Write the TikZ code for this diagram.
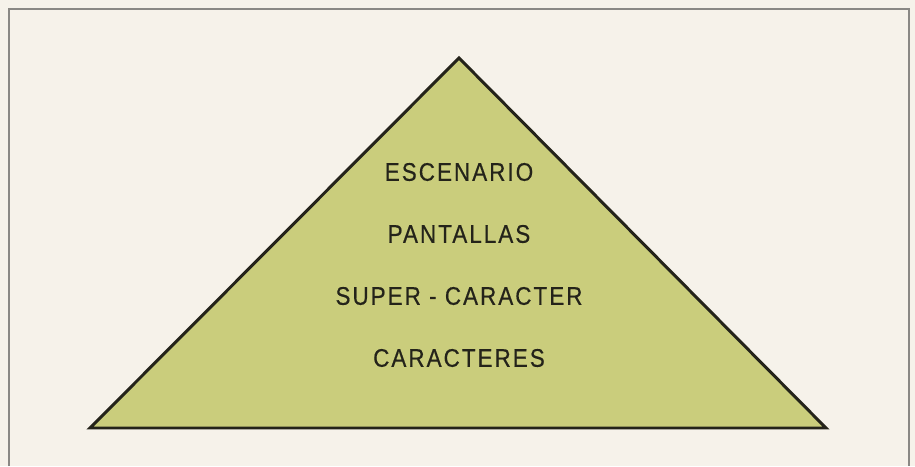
\documentclass[tikz,border=0pt]{standalone}
\usepackage{fontspec}
\setmainfont{Liberation Sans}
\usepackage{xcolor}
\usepackage{tikz}
\usetikzlibrary{positioning,calc,backgrounds}

\definecolor{paper}{HTML}{F6F2EA}
\definecolor{olivefill}{HTML}{CACD7C}
\definecolor{inkdark}{HTML}{24231A}
\definecolor{framegrey}{HTML}{8A8884}

\tikzset{
    level/.style={text=inkdark, font=\fontsize{14.5}{16}\selectfont\addfontfeature{FakeStretch=0.88,LetterSpace=8,FakeBold=0.5}, inner sep=0pt},
    pyramid/.style={draw=inkdark, fill=olivefill, line width=1.7pt, line join=miter}
}

\begin{document}
\begin{tikzpicture}[x=0.02cm, y=-0.02cm]
    % page and frame
    \fill[paper] (0,0) rectangle (915,466);
    \useasboundingbox (0,0) rectangle (915,466);
    \draw[framegrey, line width=1.1pt] (9,466) -- (9,9) -- (909,9) -- (909,466);

    % pyramid
    \coordinate (apex) at (459,58);
    \coordinate (baseL) at (90,428);
    \coordinate (baseR) at (826,428);
    \draw[pyramid] (apex) -- (baseR) -- (baseL) -- cycle;

    % levels
    \node[level] (escenario) at (459,172) {ESCENARIO};
    \node[level] (pantallas) at (459,234) {PANTALLAS};
    \node[level] (super) at (459,296) {SUPER - CARACTER};
    \node[level] (caracteres) at (459,358) {CARACTERES};
\end{tikzpicture}
\end{document}
